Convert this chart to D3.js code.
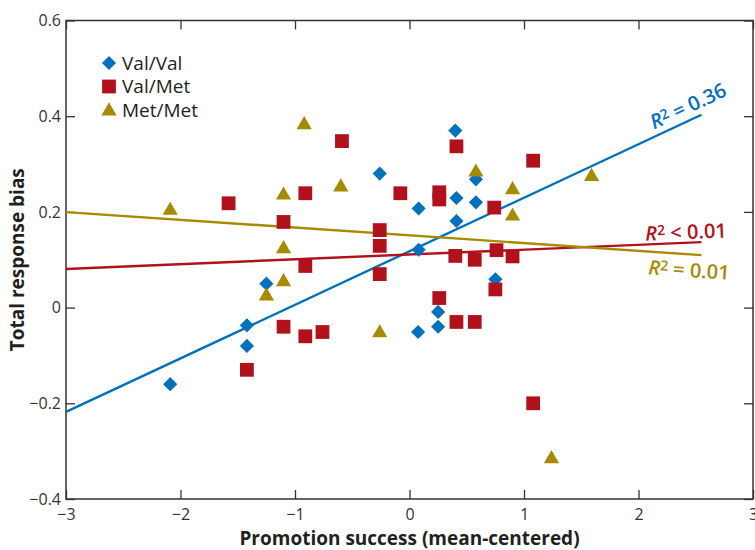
<!DOCTYPE html>
<html lang="en">
<head>
<meta charset="UTF-8">
<script src="https://d3js.org/d3.v7.min.js"></script>
<title>Promotion success vs response bias</title>
<style>
  body { margin: 0; background: #fff; }
  text { font-family: "Open Sans", "Noto Sans", sans-serif; }
</style>
</head>
<body>
<div id="chart"></div>
<script>
// ---- data ----
var valVal = [
  [-2.09, -0.16], [-1.42, -0.037], [-1.42, -0.08], [-1.25, 0.05],
  [-0.26, 0.28], [0.08, 0.207], [0.08, 0.121], [0.075, -0.051],
  [0.25, -0.009], [0.25, -0.04], [0.40, 0.37], [0.41, 0.229],
  [0.41, 0.181], [0.58, 0.268], [0.58, 0.22], [0.75, 0.059]
];
var valMet = [
  [-1.58, 0.218], [-1.42, -0.13], [-1.10, 0.179], [-1.10, -0.04],
  [-0.91, 0.239], [-0.91, 0.087], [-0.91, -0.06], [-0.76, -0.051],
  [-0.59, 0.348], [-0.26, 0.162], [-0.26, 0.129], [-0.26, 0.07],
  [-0.08, 0.239], [0.26, 0.241], [0.26, 0.226], [0.26, 0.02],
  [0.41, 0.337], [0.40, 0.108], [0.41, -0.03], [0.57, 0.10],
  [0.57, -0.03], [0.74, 0.209], [0.76, 0.12], [0.75, 0.038],
  [0.90, 0.107], [1.08, 0.307], [1.08, -0.2]
];
var metMet = [
  [-2.09, 0.203], [-1.25, 0.024], [-1.10, 0.235], [-1.10, 0.123],
  [-1.10, 0.054], [-0.92, 0.382], [-0.60, 0.252], [-0.26, -0.053],
  [0.58, 0.283], [0.90, 0.246], [0.90, 0.191], [1.24, -0.316],
  [1.59, 0.274]
];
var groups = ["Val/Val", "Val/Met", "Met/Met"];
// regression lines: [intercept, slope], drawn from x = -3 to 2.55
var fits = [[0.1177, 0.1119], [0.111, 0.0101], [0.151, -0.0162]];
var fitRange = [-3, 2.55];
var fitLabels = [["R", "2", " = 0.36"], ["R", "2", " < 0.01"], ["R", "2", " = 0.01"]];
var xTicks = [-3, -2, -1, 0, 1, 2, 3];
var yTicks = [-0.4, -0.2, 0, 0.2, 0.4, 0.6];

var colors = ["#0071bc", "#b0111b", "#a68a00"];

var width = 755, height = 550;
var margin = {top: 20.5, right: 2, bottom: 51, left: 66};

var svg = d3.select("#chart").append("svg")
  .attr("width", width).attr("height", height);

var x = d3.scaleLinear().domain([-3, 3]).range([margin.left, width - margin.right]);
var y = d3.scaleLinear().domain([-0.4, 0.6]).range([height - margin.bottom, margin.top]);

var fmt = function(d) { return d === 0 ? "0" : d3.format(".1f")(d).replace("-", "\u2212"); };
var fmtX = function(d) { return String(d).replace("-", "\u2212"); };

// axes with ticks pointing inward
function styleAxis(g) {
  g.select(".domain").remove();
  g.selectAll(".tick line").attr("stroke", "#333").attr("stroke-width", 1.3);
  g.selectAll(".tick text").attr("fill", "#333").style("font-size", "16px");
}
svg.append("g")
  .attr("transform", "translate(0," + y.range()[0] + ")")
  .call(d3.axisBottom(x).tickValues(xTicks).tickFormat(fmtX).tickSizeInner(-9).tickPadding(10))
  .call(styleAxis);
svg.append("g")
  .attr("transform", "translate(0," + y.range()[1] + ")")
  .call(d3.axisTop(x).tickValues(xTicks).tickFormat("").tickSizeInner(-9))
  .call(styleAxis);
svg.append("g")
  .attr("transform", "translate(" + x.range()[0] + ",0)")
  .call(d3.axisLeft(y).tickValues(yTicks).tickFormat(fmt).tickSizeInner(-9).tickPadding(5))
  .call(styleAxis);
svg.append("g")
  .attr("transform", "translate(" + x.range()[1] + ",0)")
  .call(d3.axisRight(y).tickValues(yTicks).tickFormat("").tickSizeInner(-9))
  .call(styleAxis);

// frame
svg.append("rect")
  .attr("x", x.range()[0]).attr("y", y.range()[1])
  .attr("width", x.range()[1] - x.range()[0])
  .attr("height", y.range()[0] - y.range()[1])
  .attr("fill", "none").attr("stroke", "#333").attr("stroke-width", 1.5);

// regression lines
var line = d3.line().x(function(d) { return x(d[0]); }).y(function(d) { return y(d[1]); });
fits.forEach(function(f, i) {
  var pts = fitRange.map(function(v) { return [v, f[0] + f[1] * v]; });
  svg.append("path").attr("d", line(pts))
    .attr("fill", "none").attr("stroke", colors[i]).attr("stroke-width", 2.4);
});

// markers
var shapes = [
  d3.symbol().type(d3.symbolSquare).size(100),
  d3.symbol().type(d3.symbolSquare).size(190),
  d3.symbol().type(d3.symbolTriangle).size(100)
];
[valVal, valMet, metMet].forEach(function(data, i) {
  svg.append("g").selectAll("path").data(data).enter().append("path")
    .attr("d", shapes[i])
    .attr("transform", function(d) {
      return "translate(" + x(d[0]) + "," + y(d[1]) + ")" + (i === 0 ? " rotate(45)" : "");
    })
    .attr("fill", colors[i]);
});

// legend
var legend = svg.append("g").attr("transform", "translate(109,63)");
groups.forEach(function(g, i) {
  var row = legend.append("g").attr("transform", "translate(0," + (i * 23.5) + ")");
  row.append("path").attr("d", shapes[i])
    .attr("transform", i === 0 ? "rotate(45)" : (i === 2 ? "translate(0,1)" : ""))
    .attr("fill", colors[i]);
  row.append("text").attr("x", 13).attr("y", 0).attr("dy", "0.36em")
    .style("font-size", "19px").attr("fill", "#231f20").text(g);
});

// R^2 labels along the lines
var labelPos = [[688, 106, -25], [686, 232, -2.4], [689, 270, 3.9]];
fitLabels.forEach(function(l, i) {
  var t = svg.append("text")
    .attr("transform", "translate(" + labelPos[i][0] + "," + labelPos[i][1] + ") rotate(" + labelPos[i][2] + ")")
    .attr("text-anchor", "middle").attr("dy", "0.35em")
    .style("font-size", "20px").style("font-weight", 600)
    .attr("fill", colors[i]);
  t.append("tspan").style("font-style", "italic").text(l[0]);
  t.append("tspan").attr("dy", "-0.35em").style("font-size", "14px").text(l[1]);
  t.append("tspan").attr("dy", "0.25em").text(l[2]);
});

// axis titles
svg.append("text")
  .attr("x", (x.range()[0] + x.range()[1]) / 2).attr("y", 538).attr("dy", "0.35em")
  .attr("text-anchor", "middle").style("font-size", "19px").style("font-weight", 700)
  .attr("fill", "#231f20").text("Promotion success (mean-centered)");
svg.append("text")
  .attr("transform", "translate(17," + ((y.range()[0] + y.range()[1]) / 2) + ") rotate(-90)")
  .attr("dy", "0.35em")
  .attr("text-anchor", "middle").style("font-size", "19px").style("font-weight", 700)
  .attr("fill", "#231f20").text("Total response bias");
</script>
</body>
</html>
